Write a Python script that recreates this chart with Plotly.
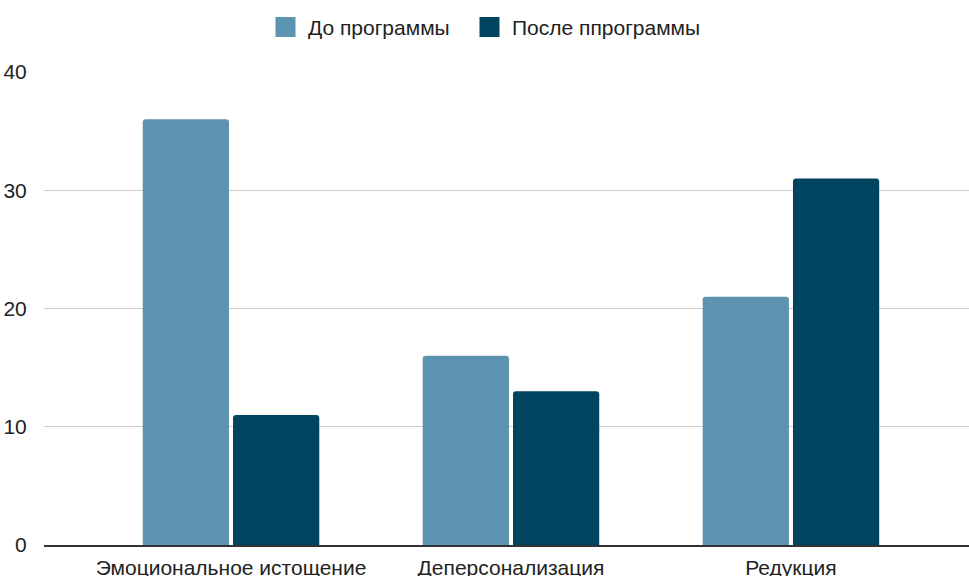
import plotly.graph_objects as go

categories = ["Эмоциональное истощение", "Деперсонализация", "Редукция"]
before = [36, 16, 21]
after = [11, 13, 31]
series_names = ["До программы", "После ппрограммы"]
colors = ["#5b93b0", "#00445f"]
y_ticks = [0, 10, 20, 30, 40]

FONT = "Liberation Sans"

fig = go.Figure()
for name, vals, c in zip(series_names, [before, after], colors):
    fig.add_trace(go.Bar(x=categories, y=vals, name=name, marker_color=c,
                         marker_line_width=0, showlegend=False))
for i, (name, c) in enumerate(zip(series_names, colors)):
    fig.add_trace(go.Scatter(x=[None], y=[None], mode="markers", name=name,
                             legend="legend" if i == 0 else "legend2",
                             marker=dict(symbol="square", size=16, color=c,
                                         line=dict(width=4, color=c))))

leg_common = dict(orientation="h", xanchor="left", yref="container", xref="container",
                  y=0.988, yanchor="top", font=dict(family=FONT, size=21), itemwidth=35,
                  bgcolor="rgba(0,0,0,0)")
fig.update_layout(
    width=969, height=576,
    margin=dict(l=44, r=0, t=72, b=31),
    paper_bgcolor="white", plot_bgcolor="white",
    font=dict(family=FONT, size=21, color="#222222"),
    barmode="group", bargap=0.355, bargroupgap=0.045, barcornerradius=3,
    legend=dict(x=263 / 969, **leg_common),
    legend2=dict(x=467 / 969, **leg_common),
)
fig.update_xaxes(range=[-0.668, 2.636], showgrid=False, showline=True, automargin=False,
                 linecolor="#333333", linewidth=1.5, ticks="outside", ticklen=3,
                 tickcolor="rgba(0,0,0,0)", tickfont=dict(family=FONT, size=21))
fig.update_yaxes(range=[0, 40], tickvals=y_ticks, showgrid=True, gridcolor="#cccccc",
                 gridwidth=1, zeroline=False, showline=False, ticks="outside", automargin=False,
                 ticklen=12, tickcolor="rgba(0,0,0,0)", tickfont=dict(family=FONT, size=21))

fig.write_html("out.html")
